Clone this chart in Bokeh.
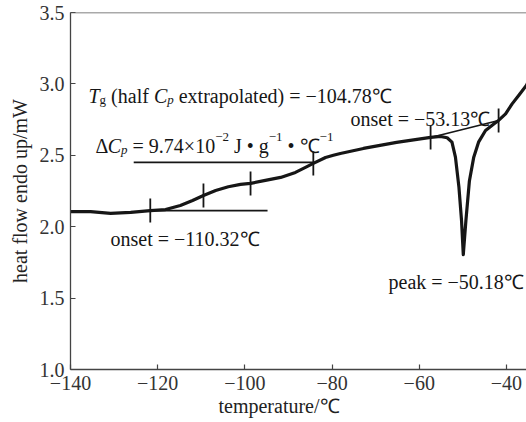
import numpy as np
from bokeh.plotting import figure
from bokeh.models import Label, Span, FixedTicker, Title
from bokeh.embed import file_html
from bokeh.resources import INLINE

# ---------------- data ----------------
temperature = [-140.0, -135.4, -130.8, -126.2, -121.7, -118.2, -114.8, -112.0, -109.5,
               -106.7, -103.8, -101.0, -98.7, -95.3, -91.8, -88.4, -86.1, -84.3, -81.5,
               -79.7, -78.1, -72.8, -65.2, -57.4, -55.1, -53.6, -52.5, -51.7, -50.9,
               -50.3, -49.9, -49.3, -48.5, -47.5, -46.4, -44.8, -42.9, -41.8, -40.2,
               -38.7, -37.2, -35.4, -34.5]
heat_flow = [2.106, 2.106, 2.093, 2.100, 2.113, 2.120, 2.148, 2.183, 2.218,
             2.254, 2.280, 2.296, 2.303, 2.324, 2.345, 2.380, 2.415, 2.443, 2.485,
             2.500, 2.513, 2.548, 2.590, 2.625, 2.632, 2.623, 2.592, 2.487, 2.277,
             2.043, 1.805, 2.043, 2.320, 2.487, 2.592, 2.674, 2.720, 2.744, 2.790,
             2.860, 2.919, 2.990, 3.050]

lower_base_T = [-121.7, -94.8]
lower_base_hf = [2.113, 2.113]
upper_base_T = [-125.5, -84.3]
upper_base_hf = [2.450, 2.450]
melt_base_T = [-57.4, -41.8]
melt_base_hf = [2.625, 2.744]

marker_T = [-121.7, -109.5, -98.7, -84.3, -57.4, -41.8]
marker_hf = [2.113, 2.218, 2.303, 2.443, 2.625, 2.744]

x_ticks = [-140, -120, -100, -80, -60, -40]
x_tick_labels = ["−140", "−120", "−100", "−80", "−60", "−40"]
y_ticks = [1.0, 1.5, 2.0, 2.5, 3.0, 3.5]
y_tick_labels = ["1.0", "1.5", "2.0", "2.5", "3.0", "3.5"]

x_title = "temperature/℃"
y_title = "heat flow endo up/mW"

# ---------------- layout ----------------
W_, H_ = 526, 422
LEFT, TOP, BOTTOM, RIGHT = 70, 12, 53, 0
XMIN, XMAX = -140.0, -35.4
YMIN, YMAX = 1.0, 3.5
FW = W_ - LEFT - RIGHT
FH = H_ - TOP - BOTTOM
FONT = "Liberation Serif"
INK = "#161616"

def px2x(px):
    return XMIN + (px - LEFT) * (XMAX - XMIN) / FW

def px2y(py):
    return YMAX - (py - TOP) * (YMAX - YMIN) / FH

p = figure(width=W_, height=H_, x_range=(XMIN, XMAX), y_range=(YMIN, YMAX),
           output_backend="svg", toolbar_location=None,
           min_border_left=LEFT, min_border_right=RIGHT,
           min_border_top=TOP, min_border_bottom=BOTTOM)
p.outline_line_color = None
p.background_fill_color = "white"
p.border_fill_color = "white"
p.xgrid.visible = False
p.ygrid.visible = False

p.xaxis.ticker = FixedTicker(ticks=x_ticks)
p.xaxis.major_label_overrides = {t: l for t, l in zip(x_ticks, x_tick_labels)}
p.yaxis.ticker = FixedTicker(ticks=y_ticks)
p.yaxis.major_label_overrides = {t: l for t, l in zip(y_ticks, y_tick_labels)}
for ax in (p.xaxis, p.yaxis):
    ax.major_tick_in = 5
    ax.major_tick_out = 0
    ax.minor_tick_line_color = None
    ax.axis_line_color = "#444444"
    ax.axis_line_width = 1.3
    ax.major_tick_line_color = "#444444"
    ax.major_tick_line_width = 1.2
    ax.major_label_text_font = FONT
    ax.major_label_text_font_size = "20px"
    ax.major_label_text_color = "#333333"
p.xaxis.major_label_standoff = 6
p.yaxis.major_label_standoff = 6
p.yaxis.axis_label = y_title
p.yaxis.axis_label_text_font = FONT
p.yaxis.axis_label_text_font_size = "20px"
p.yaxis.axis_label_text_font_style = "normal"
p.yaxis.axis_label_text_color = "#222222"
p.yaxis.axis_label_standoff = 6

p.add_layout(Title(text=x_title, align="left", offset=148, standoff=0,
                   text_font=FONT, text_font_size="20px", text_font_style="normal",
                   text_color="#222222"), "below")

p.add_layout(Span(location=YMAX, dimension="width", line_color="#555555", line_width=1.3))

# ---------------- marks ----------------
p.line(temperature, heat_flow, line_width=3.2, line_color=INK, line_join="round")
p.line(lower_base_T, lower_base_hf, line_width=1.7, line_color=INK)
p.line(upper_base_T, upper_base_hf, line_width=1.7, line_color=INK)
p.line(melt_base_T, melt_base_hf, line_width=1.7, line_color=INK)
p.scatter(marker_T, marker_hf, marker="dash", angle=np.pi / 2, size=24,
          line_width=1.8, line_color=INK)

# ---------------- text ----------------
WID = {' ': 250, '(': 333, ')': 333, '=': 564, '.': 250, '×': 564, '−': 564, '•': 350,
       '/': 278, 'Δ': 612, 'J': 389, 'C': 667, 'T': 611, 'W': 944, '℃': 1000}
for d in "0123456789":
    WID[d] = 500
WID.update(dict(a=444, b=500, c=444, d=500, e=444, f=333, g=500, h=500, i=278, j=278,
                k=500, l=278, m=778, n=500, o=500, p=500, q=500, r=333, s=389, t=278,
                u=500, v=500, w=722, x=500, y=500, z=444))
ITAL = {'T': 556, 'C': 667, 'p': 500, 'g': 500}

def twidth(s, size, style):
    tot = 0
    for ch in s:
        if style == "italic" and ch in ITAL:
            tot += ITAL[ch]
        else:
            tot += WID.get(ch, 500)
    return tot * size / 1000.0

def place(pieces, x0, base):
    x = x0
    for txt, size, style, dy in pieces:
        lead = len(txt) - len(txt.lstrip(" "))
        core = txt.strip(" ")
        xs = x + twidth(" " * lead, size, style)
        p.add_layout(Label(x=px2x(xs), y=px2y(base + dy), text=core,
                           text_font=FONT, text_font_size=f"{size}px",
                           text_font_style=style, text_color=INK,
                           text_align="left", text_baseline="alphabetic"))
        x += twidth(txt, size, style)

place([("T", 20, "italic", 0), ("g", 13, "normal", 4), (" (half ", 20, "normal", 0),
       ("C", 20, "italic", 0), ("p", 13, "italic", 4),
       (" extrapolated) = −104.78℃", 20, "normal", 0)], 88, 95)
place([("Δ", 20, "normal", 0), ("C", 20, "italic", 0), ("p", 13, "italic", 4),
       (" = 9.74×10", 20, "normal", 0), ("−2", 13, "normal", -9),
       (" J • g", 20, "normal", 0), ("−1", 13, "normal", -9),
       (" • ℃", 20, "normal", 0), ("−1", 13, "normal", -9)], 95, 145)
place([("onset = −53.13℃", 20, "normal", 0)], 350, 118)
place([("onset = −110.32℃", 20, "normal", 0)], 110, 238)
place([("peak = −50.18℃", 20, "normal", 0)], 388, 281)

open("out.html", "w").write(file_html(p, INLINE))
